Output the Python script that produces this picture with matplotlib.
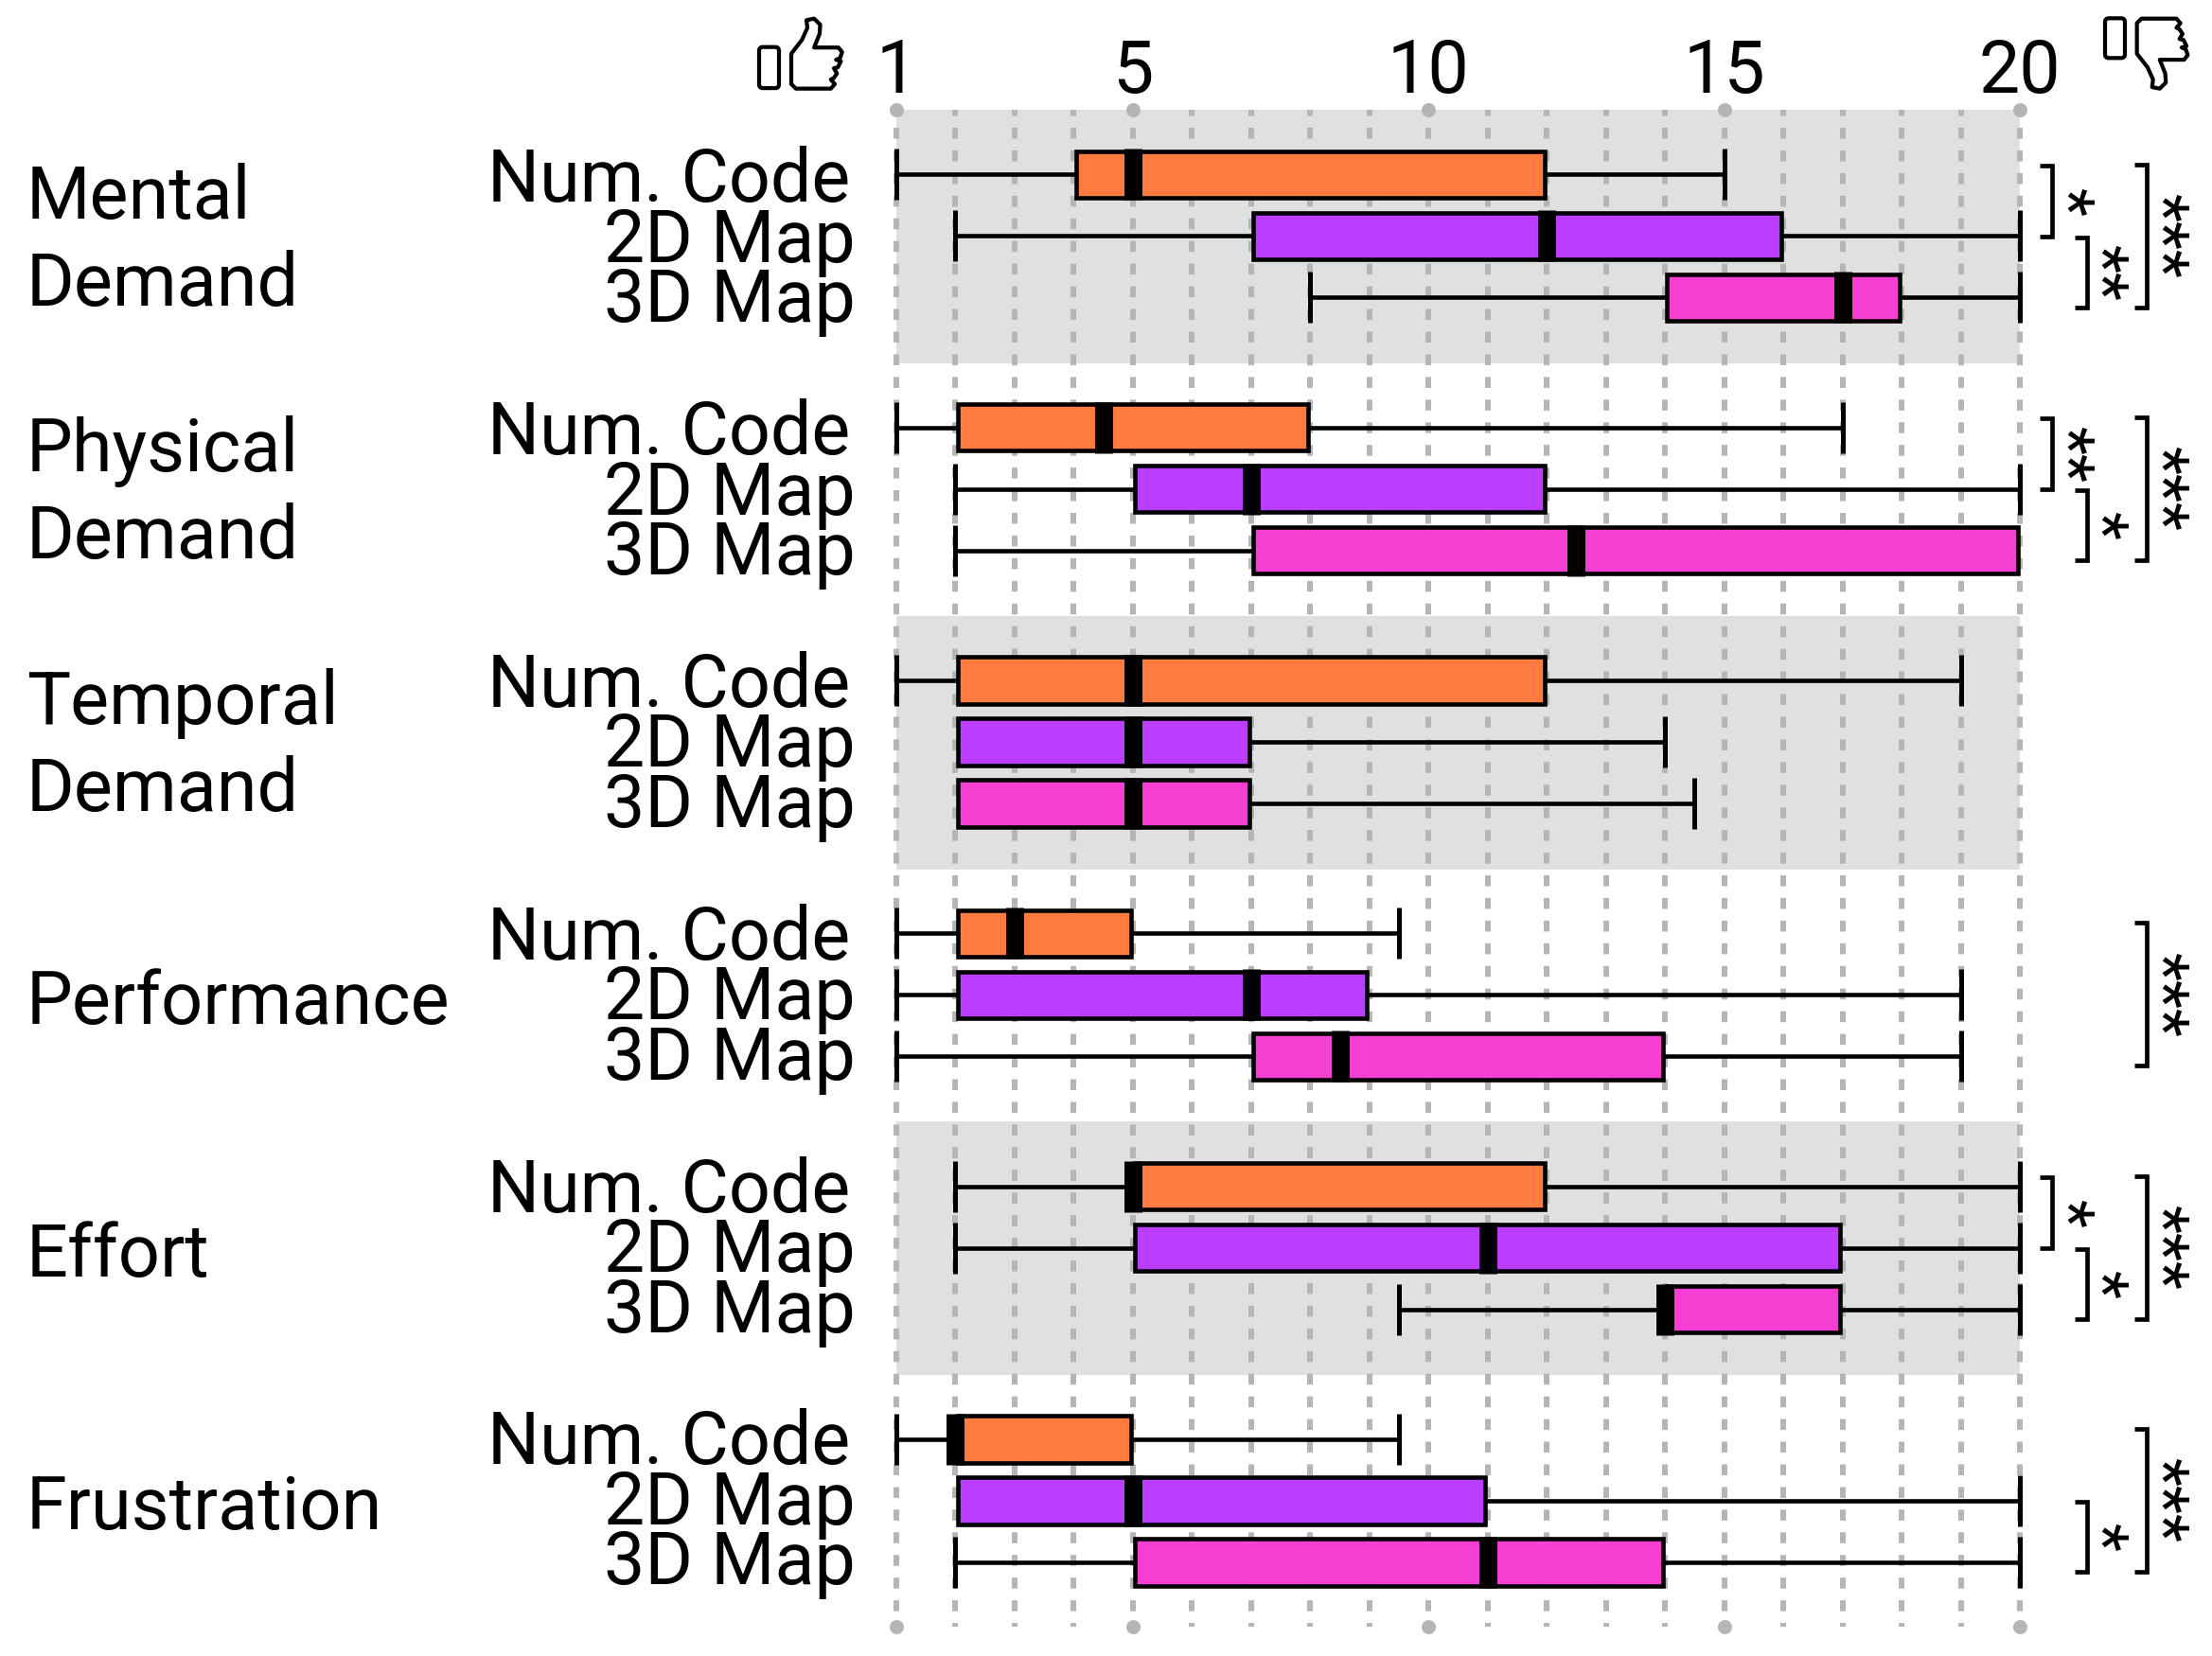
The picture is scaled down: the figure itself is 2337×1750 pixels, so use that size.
"""Workload ratings per condition: horizontal box plots with significance brackets."""

import matplotlib
matplotlib.use("Agg")  # non-interactive

import matplotlib.pyplot as plt
from matplotlib.patches import PathPatch, FancyBboxPatch
from matplotlib.path import Path

GROUPS = [["Mental", "Demand"], ["Physical", "Demand"], ["Temporal", "Demand"],
          ["Performance"], ["Effort"], ["Frustration"]]
CONDITIONS = ["Num. Code", "2D Map", "3D Map"]
COLORS = ["#FF7B3F", "#BB3DFF", "#F53FD3"]
MAJOR_TICKS = [1, 5, 10, 15, 20]

# one row per group, one tuple per condition: low whisker, q1, median, q3, high whisker
MENTAL = [(1, 4, 5, 12, 15), (2, 7, 12, 16, 20), (8, 14, 17, 18, 20)]
PHYSICAL = [(1, 2, 4.5, 8, 17), (2, 5, 7, 12, 20), (2, 7, 12.5, 20, 20)]
TEMPORAL = [(1, 2, 5, 12, 19), (2, 2, 5, 7, 14), (2, 2, 5, 7, 14.5)]
PERFORMANCE = [(1, 2, 3, 5, 9.5), (1, 2, 7, 9, 19), (1, 7, 8.5, 14, 19)]
EFFORT = [(2, 5, 5, 12, 20), (2, 5, 11, 17, 20), (9.5, 14, 14, 17, 20)]
FRUSTRATION = [(1, 2, 2, 5, 9.5), (2, 2, 5, 11, 20), (2, 5, 11, 14, 20)]
ALL_STATS = [MENTAL, PHYSICAL, TEMPORAL, PERFORMANCE, EFFORT, FRUSTRATION]

# number of stars per group (0 = no bracket)
SIG_NUM_2D = [1, 2, 0, 0, 1, 0]
SIG_2D_3D = [2, 1, 0, 0, 1, 1]
SIG_NUM_3D = [3, 3, 0, 3, 3, 3]

# layout, in reference pixels
W, H = 2337, 1750
X1, X20 = 947, 2134
Y_TOP, Y_BOTTOM = 116, 1719
ROW0, ROW_STEP, GROUP_STEP = 184.5, 65, 267.3
TEXT_ROW0, TEXT_ROW_STEP, TEXT_GROUP_STEP = 213.3, 63.5, 266.8
LABEL_RIGHT = [898.5, 904, 904]
LW = 0.72  # px to pt at dpi 100
BOX_EDGE = 4.6
BOX_OUTER = 54
BOX_INSET = (BOX_EDGE / 2) * 19 / (X20 - X1)  # box stroke sits inside the q1..q3 range
FONT = "Roboto"
FS = 55.5

fig = plt.figure(figsize=(W / 100, H / 100), dpi=100)

# chart axes: x in rating units, y in pixels
ax = fig.add_axes([X1 / W, 1 - Y_BOTTOM / H, (X20 - X1) / W, (Y_BOTTOM - Y_TOP) / H])
ax.set_xlim(1, 20)
ax.set_ylim(Y_BOTTOM, Y_TOP)
ax.axis("off")

# overlay in plain pixels for labels, brackets and icons
ov = fig.add_axes([0, 0, 1, 1], zorder=5)
ov.set_xlim(0, W)
ov.set_ylim(H, 0)
ov.axis("off")
ov.patch.set_alpha(0)

# alternating bands
for g in range(0, len(GROUPS), 2):
    top = Y_TOP + g * GROUP_STEP
    ax.axhspan(top, top + 268, color="#E0E0E0", lw=0, zorder=0)

# grid
ax.vlines(range(1, 21), Y_TOP, Y_BOTTOM, colors="#B5B5B5", lw=6 * LW,
          linestyles=[(0.82, (1.92, 2.07))], zorder=1, clip_on=False)
for y in (Y_TOP, Y_BOTTOM):
    ax.scatter(MAJOR_TICKS, [y] * len(MAJOR_TICKS), s=(15 * LW) ** 2, color="#B5B5B5",
               lw=0, zorder=2, clip_on=False)

for v in MAJOR_TICKS:
    ax.text(v, 98, str(v), ha="center", va="baseline", family=FONT, fontsize=FS, color="black")

# boxes
for g, stats in enumerate(ALL_STATS):
    for c, (lo, q1, med, q3, hi) in enumerate(stats):
        y = ROW0 + g * GROUP_STEP + c * ROW_STEP
        box = ax.bxp(
            [dict(whislo=lo, q1=q1 + BOX_INSET, med=med, q3=q3 - BOX_INSET, whishi=hi, fliers=[])],
            positions=[y], widths=BOX_OUTER - BOX_EDGE, capwidths=BOX_OUTER,
            orientation="horizontal", patch_artist=True, manage_ticks=False, zorder=3,
            boxprops=dict(facecolor=COLORS[c], edgecolor="black", lw=BOX_EDGE * LW),
            medianprops=dict(color="black", lw=19 * LW, solid_capstyle="butt"),
            whiskerprops=dict(color="black", lw=4.6 * LW, solid_capstyle="butt"),
            capprops=dict(color="black", lw=5 * LW, solid_capstyle="butt"),
        )
        for line in box["medians"] + box["whiskers"] + box["caps"]:
            line.set_clip_on(False)
        for patch in box["boxes"]:
            patch.set_clip_on(False)
        # median bar runs over the box stroke too
        box["medians"][0].set_ydata([y - BOX_OUTER / 2, y + BOX_OUTER / 2])
        # nothing outside the box on that side, so no whisker or cap either
        box["whiskers"][0].set_visible(lo < q1)
        box["caps"][0].set_visible(lo < q1)
        box["whiskers"][1].set_visible(hi > q3)
        box["caps"][1].set_visible(hi > q3)
        ov.text(LABEL_RIGHT[c], TEXT_ROW0 + g * TEXT_GROUP_STEP + c * TEXT_ROW_STEP, CONDITIONS[c],
                ha="right", va="baseline", family=FONT, fontsize=FS)

# group labels
for g, lines in enumerate(GROUPS):
    base = 231 + g * TEXT_GROUP_STEP
    baselines = [base, base + 92.3] if len(lines) == 2 else [base + 50.9]
    for text, y in zip(lines, baselines):
        ov.text(28, y, text, ha="left", va="baseline", family=FONT, fontsize=FS + 0.2)


def bracket(x0, x1, y0, y1, stars, star_x):
    ov.plot([x0, x1, x1, x0], [y0, y0, y1, y1], color="black", lw=4.7 * LW,
            solid_capstyle="butt", solid_joinstyle="miter")
    ov.text(star_x, (y0 + y1) / 2, "*" * stars, rotation=-90, ha="center", va="center",
            family=FONT, fontsize=50, linespacing=1)


for g in range(len(GROUPS)):
    off = g * GROUP_STEP
    if SIG_NUM_2D[g]:
        bracket(2155, 2168, 175 + off, 250 + off, SIG_NUM_2D[g], 2181)
    if SIG_2D_3D[g]:
        bracket(2192, 2204.5, 250.5 + off, 324.5 + off, SIG_2D_3D[g], 2217)
    if SIG_NUM_3D[g]:
        bracket(2255, 2268, 173.5 + off, 324.5 + off, SIG_NUM_3D[g], 2281)

# thumb icons, outline traced by hand (zoomed reference coordinates)
HAND = [(405, 170), (440, 125), (458, 85), (455, 60), (480, 55), (500, 75), (498, 105),
        (480, 150), (560, 150), (572, 165), (565, 185), (552, 190), (568, 195), (558, 215),
        (545, 218), (555, 235), (545, 250), (535, 255), (548, 270), (535, 285), (420, 285),
        (405, 270), (405, 170)]


def draw_thumb(to_px, rect_x, rect_y, rect_h):
    # pull the traced outer edge in a little so the stroke stays inside it
    verts = [to_px(490 + (x - 490) * 0.965, 170 + (y - 170) * 0.965) for x, y in HAND]
    codes = [Path.MOVETO] + [Path.LINETO] * (len(verts) - 2) + [Path.CLOSEPOLY]
    ov.add_patch(PathPatch(Path(verts, codes), fc="none", ec="black", lw=4.2 * LW, joinstyle="round"))
    ov.add_patch(FancyBboxPatch((rect_x, rect_y), 21, rect_h, boxstyle="round,pad=0,rounding_size=4",
                                fc="none", ec="black", lw=4.2 * LW))


draw_thumb(lambda x, y: (700 + x / 3, y / 3), 802, 49.7, 43.4)
draw_thumb(lambda x, y: (1950 + (x + 515) / 3, (340 - y) / 3), 2224, 19.3, 42)

fig.savefig("out.png", dpi=100)
plt.close(fig)
